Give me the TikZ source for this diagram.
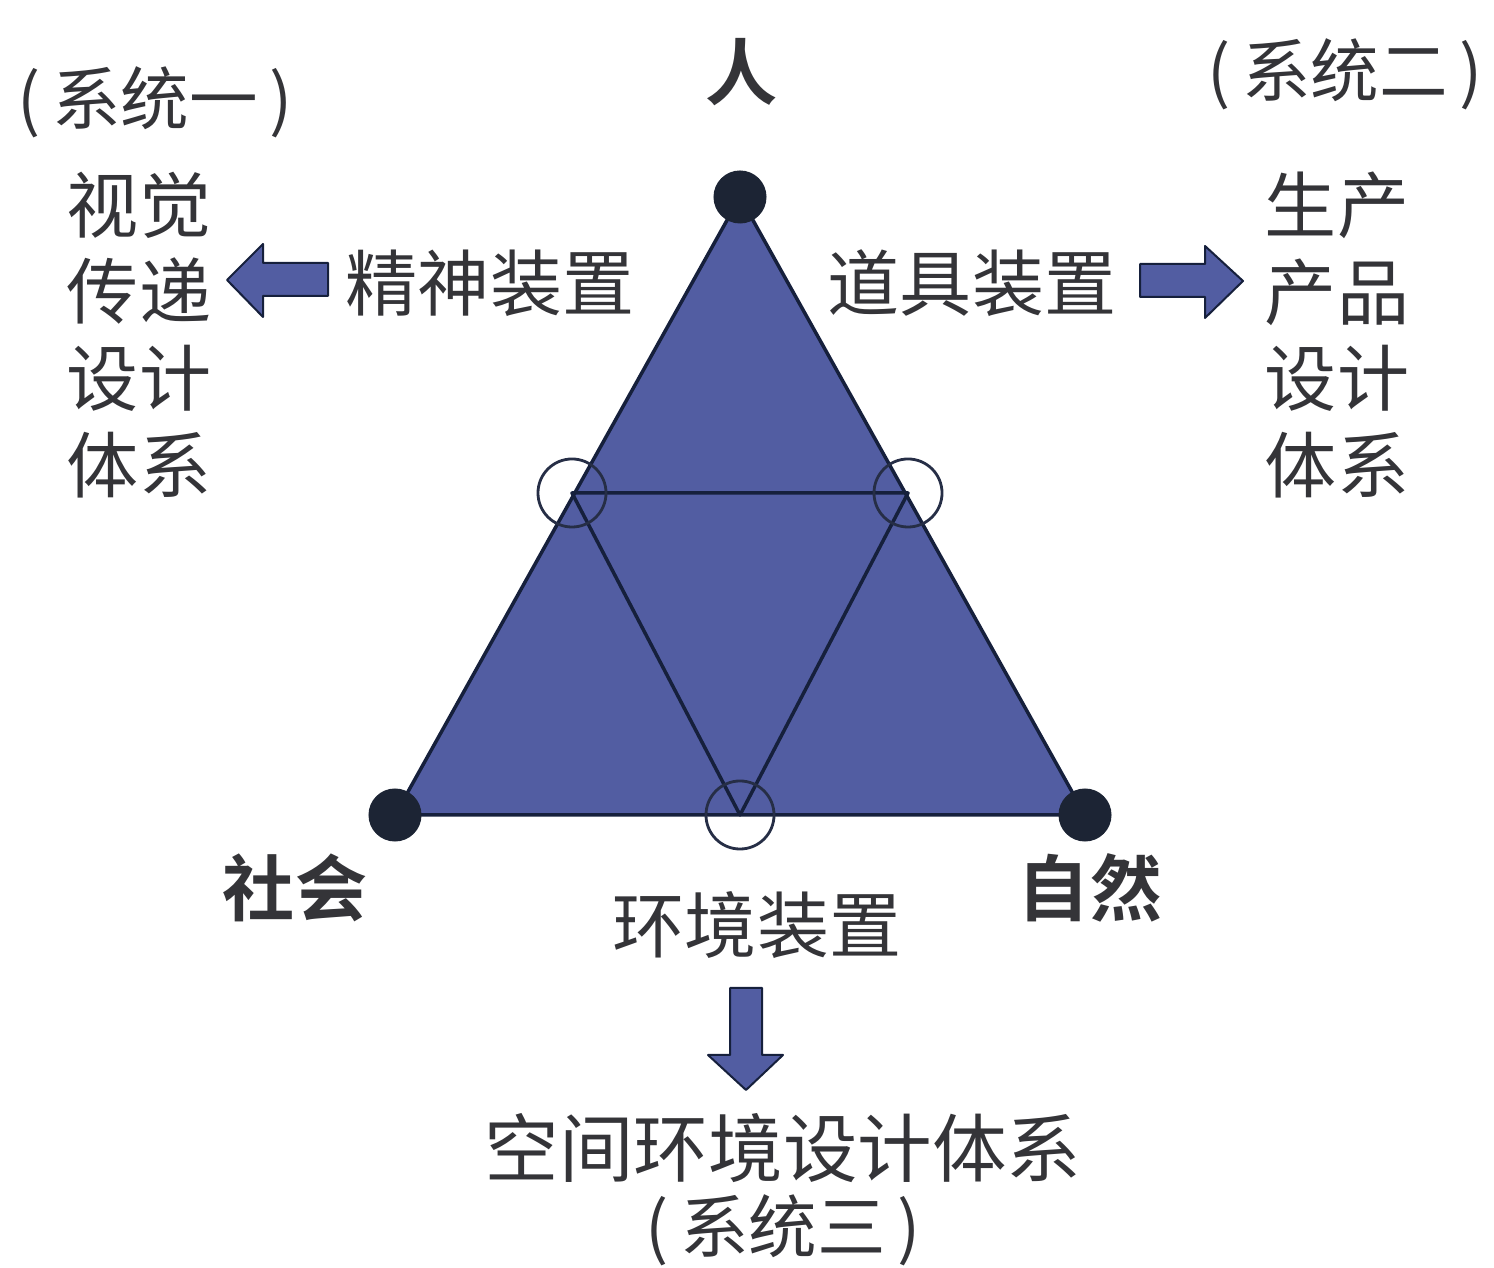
\documentclass[tikz,border=0pt]{standalone}
\usepackage{fontspec}
\setmainfont{Noto Sans CJK SC}[BoldFont={Noto Sans CJK SC Bold}]
\definecolor{trifill}{RGB}{82,93,162}
\definecolor{trieline}{RGB}{22,32,60}
\definecolor{dotcol}{RGB}{28,36,52}
\definecolor{txtcol}{RGB}{52,52,56}
\tikzset{
  word/.style={text=txtcol, inner sep=0pt, font=\fontsize{20.5}{25}\selectfont},
  sysword/.style={text=txtcol, inner sep=0pt, font=\fontsize{19.5}{23}\selectfont},
  poleword/.style={text=txtcol, inner sep=0pt, font=\bfseries\fontsize{20.5}{25}\selectfont},
  colword/.style={word, align=center, font=\fontsize{20.5}{24.7}\selectfont},
  pole/.style={circle, fill=dotcol, minimum size=0.53cm, inner sep=0pt},
  ring/.style={circle, draw=trieline!85!gray, line width=0.028cm, minimum size=0.68cm, inner sep=0pt},
  blockarrow/.style={fill=trifill, draw=trieline, line width=0.02cm, line join=round}
}
\begin{document}
\begin{tikzpicture}[x=0.01cm,y=-0.01cm]
% frame of the picture
\useasboundingbox (0,0) rectangle (1494,1268);

% corner points of triangle
\coordinate (ren) at (740,197);
\coordinate (shehui) at (395,815);
\coordinate (ziran) at (1085,815);
% mid points of the sides
\coordinate (mleft) at (572,493);
\coordinate (mright) at (908,493);
\coordinate (mbottom) at (740,815);

% Drawing triangle
\fill [trifill] (ren) -- (shehui) -- (ziran) -- cycle;
\draw [trieline, line width=0.035cm, line join=round] (ren) -- (shehui) -- (ziran) -- cycle;

% Drawing inner triangle
\draw [trieline, line width=0.035cm, line join=round] (mleft) -- (mright) -- (mbottom) -- cycle;

% Marking mid points by circles
\node [ring] (cleft) at (mleft) {};
\node [ring] (cright) at (mright) {};
\node [ring] (cbottom) at (mbottom) {};

% Marking corner points by dots
\node [pole] (dren) at (ren) {};
\node [pole] (dshehui) at (shehui) {};
\node [pole] (dziran) at (ziran) {};

% Labels of corner points
\node [poleword] (lren) at (742,72) {人};
\node [poleword] (lshehui) at (295,888) {社会};
\node [poleword] (lziran) at (1090,888) {自然};

% Labels of the three devices
\node [word] (jingshen) at (490,283) {精神装置};
\node [word] (daoju) at (972,283) {道具装置};
\node [word] (huanjing) at (757,925) {环境装置};

% System one
\node [sysword] (sys1) at (155,102) {(\,系统一\,)};
\node [colword] (shijue) at (139,335) {视觉\\传递\\设计\\体系};
% System two
\node [sysword] (sys2) at (1345,74) {(\,系统二\,)};
\node [colword] (chanpin) at (1337,335) {生产\\产品\\设计\\体系};
% System three
\node [word, font=\fontsize{21.2}{25}\selectfont] (kongjian) at (783,1148) {空间环境设计体系};
\node [sysword] (sys3) at (783,1230) {(\,系统三\,)};

% Drawing arrow to system one
\draw [blockarrow] (328,263) -- (263,263) -- (263,244) -- (227,280) -- (263,317) -- (263,296) -- (328,296) -- cycle;
% Drawing arrow to system two
\draw [blockarrow] (1140,264) -- (1205,264) -- (1205,246) -- (1243,281) -- (1205,318) -- (1205,297) -- (1140,297) -- cycle;
% Drawing arrow to system three
\draw [blockarrow] (730,988) -- (762,988) -- (762,1055) -- (783,1055) -- (746,1090) -- (708,1055) -- (730,1055) -- cycle;
\end{tikzpicture}
\end{document}
